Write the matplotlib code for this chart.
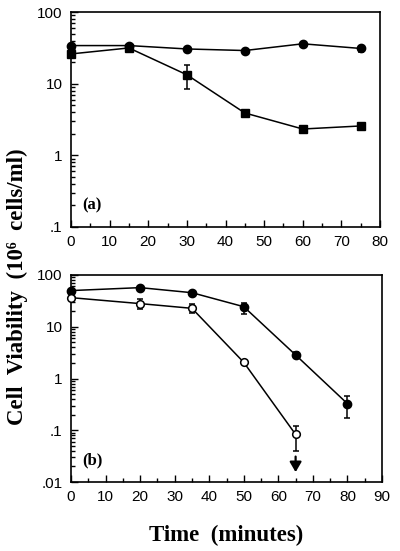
import matplotlib
matplotlib.use("Agg")
import matplotlib.pyplot as plt
import numpy as np
from matplotlib.ticker import LogLocator, FixedLocator, NullFormatter, MultipleLocator

# ---- Panel (a) data ----
a_time = [0, 15, 30, 45, 60, 75]
a_circle = [34, 34, 30.5, 29, 36, 31]
a_circle_lo = [0, 0, 0, 0, 0, 3]
a_circle_hi = [0, 0, 0, 0, 0, 3]
a_square = [26, 31.5, 13.3, 3.9, 2.33, 2.57]
a_square_lo = [0, 0, 5.0, 0.5, 0.15, 0]
a_square_hi = [0, 0, 5.2, 0.3, 0.15, 0]

# ---- Panel (b) data ----
b_time_filled = [0, 20, 35, 50, 65, 80]
b_filled = [50, 57, 45.5, 24.4, 2.85, 0.326]
b_filled_lo = [0, 0, 0, 6.4, 0.35, 0.151]
b_filled_hi = [0, 0, 0, 4.6, 0.35, 0.134]
b_time_open = [0, 20, 35, 50, 65]
b_open = [36.5, 28, 22.7, 2.05, 0.083]
b_open_lo = [0, 6.3, 4.5, 0, 0.043]
b_open_hi = [0, 6.0, 4.8, 0, 0.039]
arrow_x = 65
arrow_from, arrow_to = 0.031, 0.0155

ytick_vals_a = [0.1, 1, 10, 100]
ytick_labels_a = ['.1', '1', '10', '100']
ytick_vals_b = [0.01, 0.1, 1, 10, 100]
ytick_labels_b = ['.01', '.1', '1', '10', '100']

sans = ['Liberation Sans', 'DejaVu Sans']
serif = ['Liberation Serif', 'DejaVu Serif']

fig = plt.figure(figsize=(4.0, 5.51), dpi=100)
axa = fig.add_axes([0.1775, 1 - 227 / 551, 0.95 - 0.1775, (227 - 12) / 551])
axb = fig.add_axes([0.1775, 1 - 482 / 551, 0.955 - 0.1775, (482 - 275) / 551])


def style(ax, xmax, yvals, ylabels):
    ax.set_yscale('log')
    ax.set_xlim(0, xmax)
    ax.set_ylim(yvals[0], yvals[-1])
    ax.xaxis.set_major_locator(MultipleLocator(10))
    ax.xaxis.set_minor_locator(MultipleLocator(5))
    ax.yaxis.set_major_locator(FixedLocator(yvals))
    ax.set_yticklabels(ylabels)
    ax.yaxis.set_minor_locator(LogLocator(base=10, subs=np.arange(2, 10)))
    ax.yaxis.set_minor_formatter(NullFormatter())
    ax.tick_params(axis='both', which='both', direction='in', top=False, right=False,
                   width=1.0, labelsize=11)
    ax.tick_params(axis='both', which='major', length=5)
    ax.tick_params(axis='both', which='minor', length=3)
    ax.tick_params(axis='x', pad=6)
    ax.tick_params(axis='y', pad=6)
    for lab in ax.get_xticklabels() + ax.get_yticklabels():
        lab.set_fontfamily(sans)
    for s in ax.spines.values():
        s.set_linewidth(1.2)


style(axa, 80, ytick_vals_a, ytick_labels_a)
style(axb, 90, ytick_vals_b, ytick_labels_b)

kw = dict(color='black', lw=1.1, capsize=2.5, elinewidth=1.1, capthick=1.1, clip_on=False, zorder=3)
axa.errorbar(a_time, a_circle, yerr=[a_circle_lo, a_circle_hi], marker='o', ms=6,
             mfc='black', mec='black', **kw)
axa.errorbar(a_time, a_square, yerr=[a_square_lo, a_square_hi], marker='s', ms=5.8,
             mfc='black', mec='black', **kw)

axb.errorbar(b_time_filled, b_filled, yerr=[b_filled_lo, b_filled_hi], marker='o', ms=6,
             mfc='black', mec='black', **kw)
axb.errorbar(b_time_open, b_open, yerr=[b_open_lo, b_open_hi], marker='o', ms=5.5,
             mfc='white', mec='black', mew=1.1, **kw)
axb.annotate('', xy=(arrow_x, arrow_to), xytext=(arrow_x, arrow_from),
             arrowprops=dict(arrowstyle='-|>,head_length=0.6,head_width=0.35', color='black',
                             lw=1.6, shrinkA=0, shrinkB=0))

axa.text(0.035, 0.10, '(a)', transform=axa.transAxes, fontsize=12, fontweight='bold',
         family=serif, ha='left', va='center')
axb.text(0.035, 0.105, '(b)', transform=axb.transAxes, fontsize=12, fontweight='bold',
         family=serif, ha='left', va='center')

fig.text(17 / 400, 1 - 287 / 551, 'Cell  Viability  (10\u2076  cells/ml)', rotation=90,
         fontsize=16.5, fontweight='bold', family=serif, ha='center', va='center')
fig.text(226 / 400, 1 - 535 / 551, 'Time  (minutes)', fontsize=16.5, fontweight='bold',
         family=serif, ha='center', va='center')

fig.savefig('out.png', dpi=100)
